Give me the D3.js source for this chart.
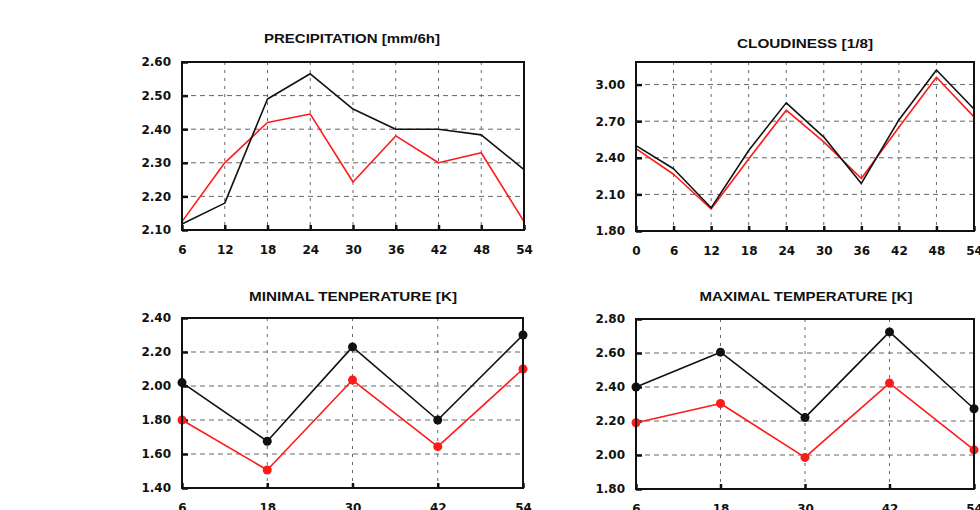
<!DOCTYPE html>
<html>
<head>
<meta charset="utf-8">
<script src="https://cdn.jsdelivr.net/npm/d3@7"></script>
<style>
  body { margin: 0; background: #fff; }
  svg { display: block; }
  .title { font-family: "Liberation Sans", Arial, sans-serif; font-weight: bold; font-size: 13px; fill: #111; }
  .tick text { font-family: "DejaVu Sans", sans-serif; font-weight: bold; font-size: 12px; fill: #111; }
</style>
</head>
<body>
<script>
// --- data ---
var precipHours = [6, 12, 18, 24, 30, 36, 42, 48, 54];
var precipBlack = [2.118, 2.18, 2.49, 2.565, 2.46, 2.40, 2.40, 2.383, 2.28];
var precipRed   = [2.125, 2.30, 2.42, 2.445, 2.243, 2.38, 2.30, 2.33, 2.125];
var precipYTicks = [2.10, 2.20, 2.30, 2.40, 2.50, 2.60];

var cloudHours = [0, 6, 12, 18, 24, 30, 36, 42, 48, 54];
var cloudBlack = [2.50, 2.31, 1.99, 2.46, 2.85, 2.57, 2.19, 2.71, 3.12, 2.80];
var cloudRed   = [2.475, 2.265, 1.98, 2.39, 2.79, 2.53, 2.23, 2.65, 3.06, 2.735];
var cloudYTicks = [1.80, 2.10, 2.40, 2.70, 3.00];

var tempHours = [6, 18, 30, 42, 54];
var tminBlack = [2.02, 1.675, 2.23, 1.80, 2.30];
var tminRed   = [1.80, 1.506, 2.035, 1.643, 2.10];
var tminYTicks = [1.40, 1.60, 1.80, 2.00, 2.20, 2.40];

var tmaxBlack = [2.40, 2.605, 2.22, 2.724, 2.272];
var tmaxRed   = [2.19, 2.303, 1.986, 2.423, 2.03];
var tmaxYTicks = [1.80, 2.00, 2.20, 2.40, 2.60, 2.80];

// --- layout of the four panels ---
var panels = [
  { title: "PRECIPITATION [mm/6h]", titleX: 352, titleY: 43, titleW: 176,
    hours: precipHours, black: precipBlack, red: precipRed, yTicks: precipYTicks,
    xDom: [6, 54], yDom: [2.10, 2.60], x0: 182, x1: 524, y0: 62, y1: 230, dots: false },
  { title: "CLOUDINESS [1/8]", titleX: 805, titleY: 48, titleW: 136,
    hours: cloudHours, black: cloudBlack, red: cloudRed, yTicks: cloudYTicks,
    xDom: [0, 54], yDom: [1.80, 3.185], x0: 636, x1: 974, y0: 62, y1: 231, dots: false },
  { title: "MINIMAL TENPERATURE [K]", titleX: 353, titleY: 301, titleW: 208,
    hours: tempHours, black: tminBlack, red: tminRed, yTicks: tminYTicks,
    xDom: [6, 54], yDom: [1.40, 2.40], x0: 182, x1: 523, y0: 318, y1: 488, dots: true },
  { title: "MAXIMAL TEMPERATURE [K]", titleX: 806, titleY: 301, titleW: 213,
    hours: tempHours, black: tmaxBlack, red: tmaxRed, yTicks: tmaxYTicks,
    xDom: [6, 54], yDom: [1.80, 2.80], x0: 636, x1: 974, y0: 319, y1: 489, dots: true }
];

var svg = d3.select("body").append("svg")
            .attr("width", 980)
            .attr("height", 510);

panels.forEach(drawPanel);

function drawPanel(p) {
    var x = d3.scaleLinear().domain(p.xDom).range([p.x0, p.x1]);
    var y = d3.scaleLinear().domain(p.yDom).range([p.y1, p.y0]);
    var g = svg.append("g");

    // grid
    var innerX = p.hours.filter(h => h > p.xDom[0] && h < p.xDom[1]);
    var innerY = p.yTicks.filter(v => v > p.yDom[0] + 1e-6 && v < p.yDom[1] - 1e-6);

    g.selectAll("line.vgrid").data(innerX).enter().append("line")
     .attr("class", "vgrid")
     .attr("x1", d => x(d)).attr("x2", d => x(d))
     .attr("y1", p.y0).attr("y2", p.y1)
     .attr("stroke", "#666").attr("stroke-width", 1)
     .attr("stroke-dasharray", "3,5");

    g.selectAll("line.hgrid").data(innerY).enter().append("line")
     .attr("class", "hgrid")
     .attr("x1", p.x0).attr("x2", p.x1)
     .attr("y1", d => y(d)).attr("y2", d => y(d))
     .attr("stroke", "#666").attr("stroke-width", 1)
     .attr("stroke-dasharray", "5,4");

    // axes: inward bold ticks, labels outside
    var yAxis = d3.axisLeft(y).tickValues(p.yTicks).tickFormat(d3.format(".2f"))
                  .tickSizeInner(-6).tickSizeOuter(0).tickPadding(11);
    var gy = g.append("g").attr("transform", `translate(${p.x0},0)`).call(yAxis);
    gy.select(".domain").remove();
    gy.selectAll(".tick line").attr("stroke", "#111").attr("stroke-width", 2.5);

    var xAxis = d3.axisBottom(x).tickValues(p.hours).tickFormat(d3.format("d"))
                  .tickSizeInner(-5).tickSizeOuter(0).tickPadding(15);
    var gx = g.append("g").attr("transform", `translate(0,${p.y1})`).call(xAxis);
    gx.select(".domain").remove();
    gx.selectAll(".tick line").attr("stroke", "#111").attr("stroke-width", 2.5);

    // series
    var line = d3.line().x((d, i) => x(p.hours[i])).y(d => y(d));
    [["#ff1a1a", p.red], ["#111", p.black]].forEach(function(s) {
        g.append("path").datum(s[1])
         .attr("d", line)
         .attr("fill", "none")
         .attr("stroke", s[0])
         .attr("stroke-width", 1.6)
         .attr("stroke-linejoin", "round");
        if (p.dots) {
            g.selectAll(null).data(s[1]).enter().append("circle")
             .attr("cx", (d, i) => x(p.hours[i]))
             .attr("cy", d => y(d))
             .attr("r", 4.5)
             .attr("fill", s[0]);
        }
    });

    // frame
    g.append("rect")
     .attr("x", p.x0).attr("y", p.y0)
     .attr("width", p.x1 - p.x0).attr("height", p.y1 - p.y0)
     .attr("fill", "none").attr("stroke", "#111").attr("stroke-width", 2);

    // title
    g.append("text").attr("class", "title")
     .attr("x", p.titleX).attr("y", p.titleY)
     .attr("text-anchor", "middle")
     .attr("textLength", p.titleW)
     .attr("lengthAdjust", "spacingAndGlyphs")
     .text(p.title);
}
</script>
</body>
</html>
